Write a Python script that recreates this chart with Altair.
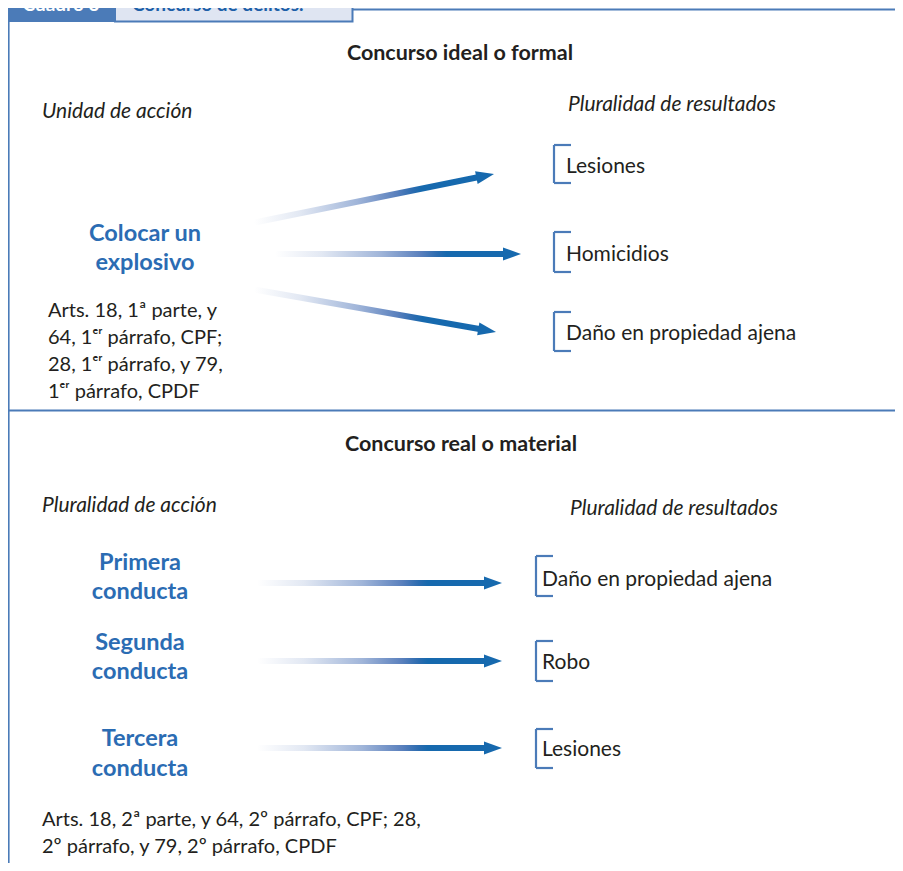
import math
import altair as alt
import pandas as pd

# ---------------- data (positions are in the figure's own pixel frame) ----------------
PAGE_W, PAGE_H = 903, 871
MARGIN = 8
VIEW_W, VIEW_H = PAGE_W - 2 * MARGIN, PAGE_H - 2 * MARGIN  # fits the window without scrolling

LINE_BLUE = "#4b7bb8"
TAB_DARK = "#4b7bb8"
TAB_LIGHT = "#dfe5f2"
TEXT_DARK = "#231f20"
LABEL_BLUE = "#2b6cb3"
ARROW_BLUE = "#1669ae"

tab_text = ["Cuadro 3", "Concurso de delitos."]
tab_text_x = [61, 132]
tab_text_y = [11, 11]

title_text = ["Concurso ideal o formal", "Concurso real o material"]
title_x = [460, 461]
title_y = [51, 442]

italic_text = ["Unidad de acción", "Pluralidad de resultados",
               "Pluralidad de acción", "Pluralidad de resultados"]
italic_x = [42, 568, 42, 570]
italic_y = [109, 102, 503, 506]

action_text = ["Colocar un", "explosivo", "Primera", "conducta",
               "Segunda", "conducta", "Tercera", "conducta"]
action_x = [145, 145, 140, 140, 140, 140, 140, 140]
action_y = [232, 261, 561, 590, 641, 670, 737, 767]

result_text = ["Lesiones", "Homicidios", "Daño en propiedad ajena",
               "Daño en propiedad ajena", "Robo", "Lesiones"]
result_x = [566, 566, 566, 542, 542, 542]
result_y = [164, 252, 331, 577, 660, 747]

bracket_x = [554, 554, 554, 536, 536, 536]
bracket_top = [145, 232, 312, 556, 641, 729]
bracket_bottom = [183, 272, 351, 596, 681, 768]
BRACKET_ARM = 17

law_text = ["Arts. 18, 1ª parte, y", "64, 1ᵉʳ párrafo, CPF;",
            "28, 1ᵉʳ párrafo, y 79,", "1ᵉʳ párrafo,  CPDF",
            "Arts. 18, 2ª parte, y 64, 2º párrafo, CPF; 28,",
            "2º párrafo, y 79, 2º párrafo, CPDF"]
law_x = [48, 48, 48, 48, 42, 42]
law_y = [309, 336, 363, 390, 818, 845]

arrow_x_start = [257, 278, 257, 260, 260, 260]
arrow_y_start = [222, 254, 290, 583, 661, 748]
arrow_x_tip = [494, 521, 496, 502, 502, 502]
arrow_y_tip = [174, 254, 332, 583, 661, 748]

# frame lines: x1, y1, x2, y2
frame_x1 = [352, 8.5, 8]
frame_y1 = [9.5, 0, 410.5]
frame_x2 = [903, 8.5, 903]
frame_y2 = [9.5, 871, 410.5]

# tabs: x1, x2, y1, y2
tab_x1 = [8, 115]
tab_x2 = [116, 352.5]
tab_y1 = [-10, -10]
tab_y2 = [22, 21.5]

# ---------------- scales ----------------
xs = alt.Scale(domain=[MARGIN, MARGIN + VIEW_W], range=[0, VIEW_W])
ys = alt.Scale(domain=[MARGIN, MARGIN + VIEW_H], range=[0, VIEW_H])


def X(f="x"):
    return alt.X(f"{f}:Q", scale=xs, axis=None)


def Y(f="y"):
    return alt.Y(f"{f}:Q", scale=ys, axis=None)


FONT = "Lato"

# tabs
tabs_df = pd.DataFrame({"x": tab_x1, "x2": tab_x2, "y": tab_y1, "y2": tab_y2,
                        "k": ["dark", "light"]})
tab_dark = alt.Chart(tabs_df[tabs_df.k == "dark"]).mark_rect(
    fill=TAB_DARK, strokeWidth=0).encode(
    x=X(), x2="x2:Q", y=Y(), y2="y2:Q")
tab_light = alt.Chart(tabs_df[tabs_df.k == "light"]).mark_rect(
    fill=TAB_LIGHT, stroke=LINE_BLUE, strokeWidth=2).encode(
    x=X(), x2="x2:Q", y=Y(), y2="y2:Q")

tab_txt_df = pd.DataFrame({"x": tab_text_x, "y": tab_text_y, "t": tab_text})
tab_txt1 = alt.Chart(tab_txt_df.iloc[[0]]).mark_text(
    font=FONT, fontSize=19, fontWeight="bold", color="#ffffff",
    align="center", baseline="alphabetic").encode(x=X(), y=Y(), text="t:N")
tab_txt2 = alt.Chart(tab_txt_df.iloc[[1]]).mark_text(
    font=FONT, fontSize=19, fontWeight="bold", color="#1d5fa8",
    align="left", baseline="alphabetic").encode(x=X(), y=Y(), text="t:N")

# frame
frame_df = pd.DataFrame({"x": frame_x1, "y": frame_y1, "x2": frame_x2, "y2": frame_y2})
frame = alt.Chart(frame_df).mark_rule(color=LINE_BLUE, strokeWidth=2.2).encode(
    x=X(), y=Y(), x2="x2:Q", y2="y2:Q")

# brackets
seg = []
for bx, bt, bb in zip(bracket_x, bracket_top, bracket_bottom):
    seg.append((bx, bt, bx, bb))
    seg.append((bx, bt, bx + BRACKET_ARM, bt))
    seg.append((bx, bb, bx + BRACKET_ARM, bb))
br_df = pd.DataFrame(seg, columns=["x", "y", "x2", "y2"])
brackets = alt.Chart(br_df).mark_rule(color=LINE_BLUE, strokeWidth=2.2).encode(
    x=X(), y=Y(), x2="x2:Q", y2="y2:Q")

# arrows
HEAD = 18
rows, heads = [], []
for i, (x0, y0, x1, y1) in enumerate(zip(arrow_x_start, arrow_y_start, arrow_x_tip, arrow_y_tip)):
    ang = math.degrees(math.atan2(y1 - y0, x1 - x0))
    L = math.hypot(x1 - x0, y1 - y0)
    ux, uy = (x1 - x0) / L, (y1 - y0) / L
    ex, ey = x1 - ux * (HEAD - 4), y1 - uy * (HEAD - 4)
    rows.append({"id": i, "o": 0, "x": x0, "y": y0})
    rows.append({"id": i, "o": 1, "x": ex, "y": ey})
    heads.append({"x": x1, "y": y1, "ang": ang % 360})
shaft_df = pd.DataFrame(rows)
head_df = pd.DataFrame(heads)

grad = alt.LinearGradient(
    gradient="linear", x1=0, y1=0, x2=1, y2=0,
    stops=[alt.GradientStop(offset=0.0, color="#ffffff"),
           alt.GradientStop(offset=0.2, color="#e2e8f3"),
           alt.GradientStop(offset=0.45, color="#a0b5d9"),
           alt.GradientStop(offset=0.62, color="#5a80bd"),
           alt.GradientStop(offset=0.69, color="#2c6cb0"),
           alt.GradientStop(offset=0.73, color=ARROW_BLUE),
           alt.GradientStop(offset=1.0, color=ARROW_BLUE)])

shafts = alt.Chart(shaft_df).mark_trail(fill=grad).encode(
    x=X(), y=Y(), detail="id:N", order="o:Q", size=alt.value(6))

heads_layer = alt.Chart(head_df).mark_point(
    shape="M0,0L-2,-0.72L-2,0.72Z", filled=True, fill=ARROW_BLUE,
    strokeWidth=0, opacity=1, size=HEAD * HEAD).encode(
    x=X(), y=Y(), angle=alt.Angle("ang:Q", scale=None))


def text_layer(xv, yv, tv, **kw):
    df = pd.DataFrame({"x": xv, "y": yv, "t": tv})
    return alt.Chart(df).mark_text(font=FONT, baseline="middle", **kw).encode(
        x=X(), y=Y(), text="t:N")


titles = text_layer(title_x, title_y, title_text, fontSize=21.5, fontWeight="bold",
                    color=TEXT_DARK, align="center", dy=2.5)
italics = text_layer(italic_x, italic_y, italic_text, fontSize=21, fontStyle="italic",
                     color=TEXT_DARK, align="left", dy=2.5)
actions = text_layer(action_x, action_y, action_text, fontSize=23.5, fontWeight="bold",
                     color=LABEL_BLUE, align="center", dy=2)
results = text_layer(result_x, result_y, result_text, fontSize=21,
                     color=TEXT_DARK, align="left", dy=2.5)
laws = text_layer(law_x, law_y, law_text, fontSize=20,
                  color=TEXT_DARK, align="left", dy=1.5)

chart = alt.layer(
    tab_dark, tab_light, tab_txt1, tab_txt2, frame, brackets,
    shafts, heads_layer, titles, italics, actions, results, laws
).properties(
    width=VIEW_W, height=VIEW_H,
    autosize=alt.AutoSizeParams(type="none"),
    padding=0,
).configure_view(strokeWidth=0)

chart.save("out.html", embed_options={"renderer": "svg", "actions": False})
